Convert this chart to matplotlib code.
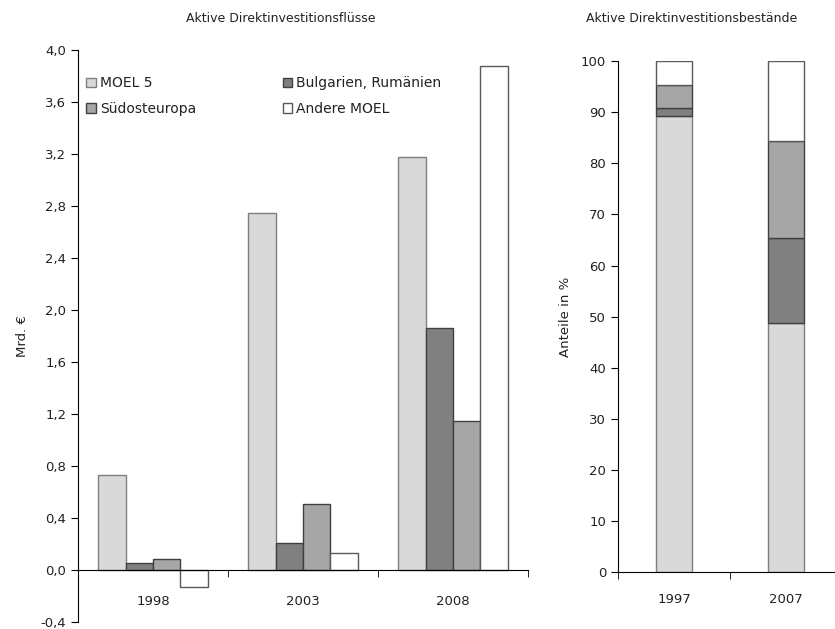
import matplotlib
matplotlib.use("Agg")
import matplotlib.pyplot as plt
import numpy as np

plt.rcParams['font.family'] = ['DejaVu Sans']

# Left chart: flows (Mrd. €)
years_flow = ["1998", "2003", "2008"]
moel5 = [0.73, 2.75, 3.18]
bg_ro = [0.06, 0.21, 1.86]
suedost = [0.09, 0.51, 1.15]
andere = [-0.13, 0.13, 3.88]

# Right chart: stocks (shares in %)
years_stock = ["1997", "2007"]
s_moel5 = [89.3, 48.7]
s_bg_ro = [1.5, 16.6]
s_suedost = [4.5, 19.1]
s_andere = [4.7, 15.6]

labels = ["MOEL 5", "Bulgarien, Rumänien", "Südosteuropa", "Andere MOEL"]
colors = ["#d9d9d9", "#808080", "#a6a6a6", "#ffffff"]
edges = ["#7f7f7f", "#404040", "#404040", "#595959"]

fig = plt.figure(figsize=(8.35, 6.29), dpi=100)
fs = 9.5
tc = "#222222"

# ---------- left axes ----------
ax = fig.add_axes([78/835, 6.7/629, 450/835, 572/629])
x = np.arange(len(years_flow))
w = 0.183
series = [moel5, bg_ro, suedost, andere]
handles = []
for i, s in enumerate(series):
    b = ax.bar(x + (i - 1.5) * w, s, w, color=colors[i], edgecolor=edges[i],
               linewidth=1.0, label=labels[i])
    handles.append(b)
ax.set_xlim(-0.5, 2.5)
ax.set_ylim(-0.4, 4.0)
yt = np.arange(-0.4, 4.01, 0.4)
ax.set_yticks(yt)
ax.set_yticklabels([f"{v:.1f}".replace(".", ",").replace("-0,0", "0,0") for v in yt],
                   fontsize=fs, color=tc)
for sp in ["top", "right"]:
    ax.spines[sp].set_visible(False)
ax.spines["bottom"].set_position(("data", 0))
ax.set_xticks(x)
ax.set_xticklabels(years_flow, fontsize=fs, color=tc)
ax.tick_params(axis="x", which="major", length=0, pad=18)
ax.set_xticks([0.5, 1.5, 2.5], minor=True)
ax.tick_params(axis="x", which="minor", length=5, direction="out")
ax.tick_params(axis="y", length=5, direction="out")
ax.set_ylabel("Mrd. €", fontsize=fs, color=tc, labelpad=14)
ax.yaxis.set_label_coords(-0.11, 0.5)
leg = ax.legend([handles[0], handles[2], handles[1], handles[3]],
                [labels[0], labels[2], labels[1], labels[3]],
                ncol=2, loc="upper left", bbox_to_anchor=(0.0, 0.969),
                frameon=False, fontsize=fs + 0.5, handlelength=0.7, handleheight=0.7,
                handletextpad=0.3, columnspacing=6.2, labelspacing=0.85,
                borderaxespad=0.2)
for t in leg.get_texts():
    t.set_color(tc)
fig.text(281/835, 1 - 18/629, "Aktive Direktinvestitionsflüsse", ha="center",
         va="center", fontsize=fs - 0.5, color=tc)

# ---------- right axes ----------
ax2 = fig.add_axes([618/835, 56.7/629, 224/835, 511.3/629])
x2 = np.arange(len(years_stock))
w2 = 0.33
bottom = np.zeros(len(years_stock))
for i, s in enumerate([s_moel5, s_bg_ro, s_suedost, s_andere]):
    ax2.bar(x2, s, w2, bottom=bottom, color=colors[i], edgecolor=edges[i], linewidth=1.0)
    bottom = bottom + np.array(s)
ax2.set_xlim(-0.5, 1.5)
ax2.set_ylim(0, 100)
ax2.set_yticks(np.arange(0, 101, 10))
ax2.set_yticklabels([str(v) for v in range(0, 101, 10)], fontsize=fs, color=tc)
for sp in ["top", "right"]:
    ax2.spines[sp].set_visible(False)
ax2.set_xticks(x2)
ax2.set_xticklabels(years_stock, fontsize=fs, color=tc)
ax2.tick_params(axis="x", which="major", length=0, pad=15)
ax2.set_xticks([-0.5, 0.5], minor=True)
ax2.tick_params(axis="x", which="minor", length=5, direction="out")
ax2.tick_params(axis="y", length=5, direction="out")
ax2.set_ylabel("Anteile in %", fontsize=fs, color=tc)
ax2.yaxis.set_label_coords(-0.205, 0.5)
fig.text(692/835, 1 - 18/629, "Aktive Direktinvestitionsbestände", ha="center",
         va="center", fontsize=fs - 0.5, color=tc)

fig.savefig("out.png", dpi=100)
